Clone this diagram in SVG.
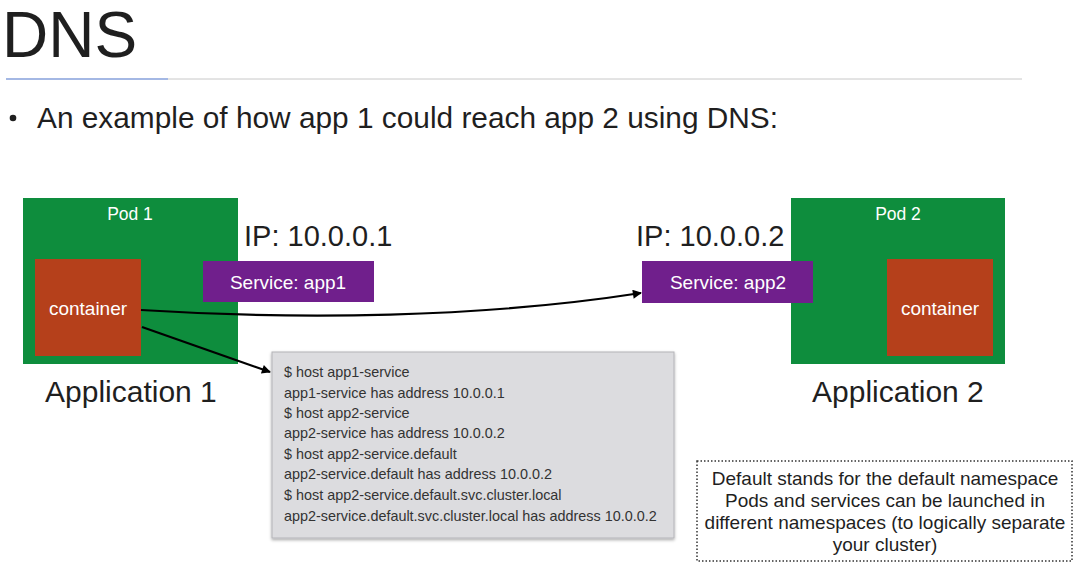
<svg xmlns="http://www.w3.org/2000/svg" width="1079" height="571" viewBox="0 0 1079 571">
  <defs>
    <marker id="arrow" viewBox="0 0 10 10" refX="9" refY="5" markerWidth="10" markerHeight="9" markerUnits="userSpaceOnUse" orient="auto">
      <path d="M0,0 L10,5 L0,10 z" fill="#000"/>
    </marker>
    <filter id="shadow" x="-5%" y="-5%" width="110%" height="115%">
      <feDropShadow dx="0" dy="1.5" stdDeviation="1.5" flood-color="#000" flood-opacity="0.35"/>
    </filter>
  </defs>
  <style>
    text { font-family: "Liberation Sans", Arial, sans-serif; }
    .pod { fill: #0e8d3d; }
    .ctr { fill: #b5401b; }
    .svc { fill: #701f8c; }
    .white { fill: #ffffff; }
    .dark { fill: #1f1f1f; }
    .mono { fill: #333333; font-size: 14.4px; }
    .note { fill: #1f1f1f; font-size: 19px; text-anchor: middle; }
    .conn { fill: none; stroke: #000; stroke-width: 2.2; }
  </style>
  <rect width="1079" height="571" fill="#ffffff"/>

  <!-- header -->
  <g id="title">
    <text x="2" y="57" font-size="64" class="dark">DNS</text>
    <line x1="6" y1="79" x2="168" y2="79" stroke="#4a72c9" stroke-width="1.2"/>
    <line x1="168" y1="79" x2="1022" y2="79" stroke="#c8c8c8" stroke-width="1"/>
    <circle cx="13" cy="118" r="3.3" fill="#1f1f1f"/>
    <text x="37" y="128" font-size="30" class="dark" textLength="741" lengthAdjust="spacingAndGlyphs">An example of how app 1 could reach app 2 using DNS:</text>
  </g>

  <!-- application 1 -->
  <g id="pod1">
    <rect x="23" y="198" width="215" height="166" class="pod"/>
    <text x="130" y="220" font-size="17.5" text-anchor="middle" class="white">Pod 1</text>
  </g>
  <g id="container1">
    <rect x="35" y="259" width="106" height="97" class="ctr"/>
    <text x="88" y="315" font-size="19" text-anchor="middle" class="white">container</text>
  </g>
  <g id="service1">
    <text x="244" y="246" font-size="29" class="dark">IP: 10.0.0.1</text>
    <rect x="203" y="261" width="171" height="41" class="svc"/>
    <text x="288" y="289" font-size="19" text-anchor="middle" class="white">Service: app1</text>
  </g>
  <g id="app1-label">
    <text x="45" y="402" font-size="30" class="dark">Application 1</text>
  </g>

  <!-- application 2 -->
  <g id="pod2">
    <rect x="791" y="198" width="214" height="166" class="pod"/>
    <text x="898" y="220" font-size="17.5" text-anchor="middle" class="white">Pod 2</text>
  </g>
  <g id="container2">
    <rect x="887" y="259" width="106" height="97" class="ctr"/>
    <text x="940" y="315" font-size="19" text-anchor="middle" class="white">container</text>
  </g>
  <g id="service2">
    <text x="636" y="246" font-size="29" class="dark">IP: 10.0.0.2</text>
    <rect x="642" y="261" width="171" height="42" class="svc"/>
    <text x="728" y="289" font-size="19" text-anchor="middle" class="white">Service: app2</text>
  </g>
  <g id="app2-label">
    <text x="812" y="402" font-size="30" class="dark">Application 2</text>
  </g>

  <!-- host lookup output -->
  <g id="lookup">
    <rect x="272" y="352" width="402" height="186" fill="#dcdcdf" stroke="#b4b4b8" stroke-width="1" filter="url(#shadow)"/>
    <text x="284" y="377" class="mono">$ host app1-service</text>
    <text x="284" y="398" class="mono">app1-service has address 10.0.0.1</text>
    <text x="284" y="418" class="mono">$ host app2-service</text>
    <text x="284" y="438" class="mono">app2-service has address 10.0.0.2</text>
    <text x="284" y="459" class="mono">$ host app2-service.default</text>
    <text x="284" y="479" class="mono">app2-service.default has address 10.0.0.2</text>
    <text x="284" y="500" class="mono">$ host app2-service.default.svc.cluster.local</text>
    <text x="284" y="521" class="mono">app2-service.default.svc.cluster.local has address 10.0.0.2</text>
  </g>

  <!-- namespace note -->
  <g id="note">
    <rect x="697" y="461" width="375" height="100" fill="none" stroke="#333" stroke-width="1.5" stroke-dasharray="1.5 2"/>
    <text x="885" y="485" class="note">Default stands for the default namespace</text>
    <text x="885" y="507" class="note">Pods and services can be launched in</text>
    <text x="885" y="529" class="note">different namespaces (to logically separate</text>
    <text x="885" y="551" class="note">your cluster)</text>
  </g>

  <!-- connectors -->
  <g id="connectors">
    <path d="M141,310 C300,320 480,318 641,293" class="conn" marker-end="url(#arrow)"/>
    <path d="M142,327 L270,372" class="conn" marker-end="url(#arrow)"/>
  </g>
</svg>
